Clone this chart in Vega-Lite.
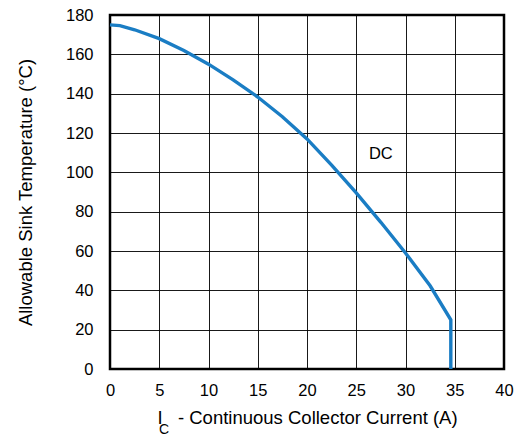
{
  "$schema": "https://vega.github.io/schema/vega-lite/v6.json",
  "autosize": {"type": "none"},
  "padding": {"left": 110, "top": 15, "right": 12, "bottom": 67},
  "width": 394,
  "height": 354,
  "background": "white",
  "config": {
    "font": "Liberation Sans",
    "view": {"stroke": "#000000", "strokeWidth": 2.5},
    "axis": {
      "grid": true,
      "gridColor": "#000000",
      "gridWidth": 1,
      "gridOpacity": 0.9,
      "domain": false,
      "ticks": false,
      "labelFont": "Liberation Sans",
      "labelFontSize": 16.5,
      "labelColor": "#000000",
      "labelOverlap": false,
      "labelFlush": false,
      "titleFont": "Liberation Sans",
      "titleFontSize": 18.5,
      "titleFontWeight": "normal",
      "titleColor": "#000000"
    }
  },
  "datasets": {
    "curve": [
      {"ic": 0, "temp": 175},
      {"ic": 1, "temp": 174.6},
      {"ic": 2.5, "temp": 172.5},
      {"ic": 5, "temp": 168},
      {"ic": 7.5, "temp": 162},
      {"ic": 10, "temp": 155},
      {"ic": 12.5, "temp": 147},
      {"ic": 15, "temp": 138.3},
      {"ic": 17.5, "temp": 128.3},
      {"ic": 20, "temp": 117},
      {"ic": 22.5, "temp": 103.7},
      {"ic": 25, "temp": 89.5},
      {"ic": 27.5, "temp": 74.6},
      {"ic": 30, "temp": 59},
      {"ic": 32.5, "temp": 42.3},
      {"ic": 34.6, "temp": 25},
      {"ic": 34.6, "temp": 0}
    ],
    "notes": [
      {"ic": 27.5, "temp": 109.5, "label": "DC"}
    ],
    "subscript": [
      {"ic": 5.5, "temp": -31, "label": "C"}
    ]
  },
  "encoding": {
    "x": {
      "field": "ic",
      "type": "quantitative",
      "scale": {"domain": [0, 40], "nice": false},
      "axis": {"values": [0, 5, 10, 15, 20, 25, 30, 35, 40], "labelPadding": 13, "labelOverlap": false, "title": "I\u00a0\u00a0\u00a0- Continuous Collector Current (A)", "titlePadding": 10}
    },
    "y": {
      "field": "temp",
      "type": "quantitative",
      "scale": {"domain": [0, 180], "nice": false},
      "axis": {"values": [0, 20, 40, 60, 80, 100, 120, 140, 160, 180], "labelPadding": 17, "labelOverlap": false, "title": "Allowable Sink Temperature (°C)", "titlePadding": 30}
    }
  },
  "layer": [
    {
      "data": {"name": "curve"},
      "mark": {"type": "line", "color": "#1a7dc4", "strokeWidth": 3.4, "clip": false},
      "encoding": {
        "order": {"field": "__row", "type": "quantitative"}
      }
    },
    {
      "data": {"name": "notes"},
      "mark": {"type": "text", "fontSize": 16.5, "font": "Liberation Sans", "color": "#000000", "baseline": "middle"},
      "encoding": {
        "text": {"field": "label"}
      }
    },
    {
      "data": {"name": "subscript"},
      "mark": {"type": "text", "fontSize": 14, "font": "Liberation Sans", "color": "#000000", "baseline": "middle", "clip": false},
      "encoding": {
        "text": {"field": "label"}
      }
    }
  ]
}
